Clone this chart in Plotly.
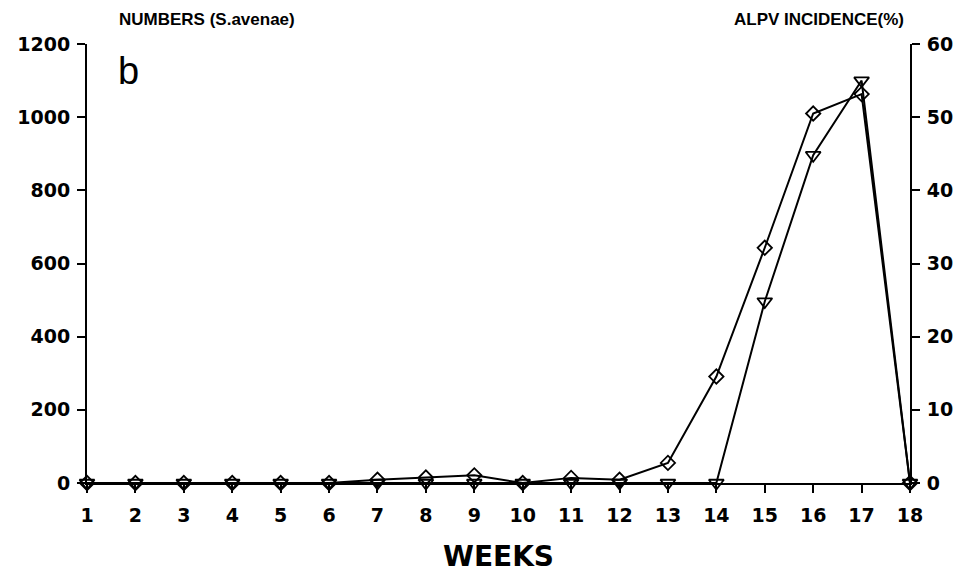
import plotly.graph_objects as go

weeks = list(range(1, 19))
aphid_numbers = [0, 0, 0, 0, 0, 0, 9, 15, 21, 0, 14, 9, 55, 291, 643, 1010, 1063, 0]
alpv_incidence = [0, 0, 0, 0, 0, 0, 0, 0, 0, 0, 0, 0, 0, 0, 24.8, 44.8, 55.0, 0]
left_ticks = [0, 200, 400, 600, 800, 1000, 1200]
right_ticks = [0, 10, 20, 30, 40, 50, 60]

FONT = "Liberation Sans"
WIDE = "DejaVu Sans"

fig = go.Figure()
fig.add_trace(go.Scatter(
    x=weeks, y=aphid_numbers, mode="lines+markers", yaxis="y",
    line=dict(color="black", width=2),
    marker=dict(symbol="diamond-open", size=11, color="black", line=dict(width=1.8)),
    cliponaxis=False, showlegend=False))
fig.add_trace(go.Scatter(
    x=weeks, y=alpv_incidence, mode="lines+markers", yaxis="y2",
    line=dict(color="black", width=2),
    marker=dict(symbol="triangle-down-open", size=13, color="black", line=dict(width=1.8)),
    cliponaxis=False, showlegend=False))

tickfont = dict(family=WIDE, size=19, color="black", weight="bold")

fig.update_layout(
    width=969, height=576,
    margin=dict(l=87, r=59, t=44, b=93),
    paper_bgcolor="white", plot_bgcolor="white",
    xaxis=dict(range=[1, 18], tickvals=weeks, ticktext=[str(w) for w in weeks],
               showgrid=False, zeroline=False, showline=True, linecolor="black", linewidth=2,
               ticks="outside", ticklen=8, tickwidth=2, tickcolor="black", tickfont=tickfont,
               ticklabelstandoff=6),
    yaxis=dict(range=[0, 1200], tickvals=left_ticks, showgrid=False, zeroline=False,
               showline=True, linecolor="black", linewidth=2,
               ticks="outside", ticklen=8, tickwidth=2, tickcolor="black", tickfont=tickfont,
               ticklabelstandoff=3),
    yaxis2=dict(range=[0, 60], tickvals=right_ticks, overlaying="y", side="right",
                showgrid=False, zeroline=False, showline=True, linecolor="black", linewidth=2,
                ticks="outside", ticklen=8, tickwidth=2, tickcolor="black", tickfont=tickfont,
                ticklabelstandoff=3),
    annotations=[
        dict(text="NUMBERS (S.avenae)", xref="paper", yref="paper", x=0.037, y=1.0, yshift=13,
             xanchor="left", yanchor="bottom", showarrow=False,
             font=dict(family=FONT, size=17, color="black", weight="bold")),
        dict(text="ALPV INCIDENCE(%)", xref="paper", yref="paper", x=0.995, y=1.0, yshift=13,
             xanchor="right", yanchor="bottom", showarrow=False,
             font=dict(family=FONT, size=17, color="black", weight="bold")),
        dict(text="b", xref="paper", yref="paper", x=0.035, y=0.99,
             xanchor="left", yanchor="top", showarrow=False,
             font=dict(family=FONT, size=38, color="black")),
        dict(text="WEEKS", xref="paper", yref="paper", x=0.5, y=0, yshift=-55,
             xanchor="center", yanchor="top", showarrow=False,
             font=dict(family=WIDE, size=28, color="black", weight="bold")),
    ],
)

fig.write_html("out.html")
